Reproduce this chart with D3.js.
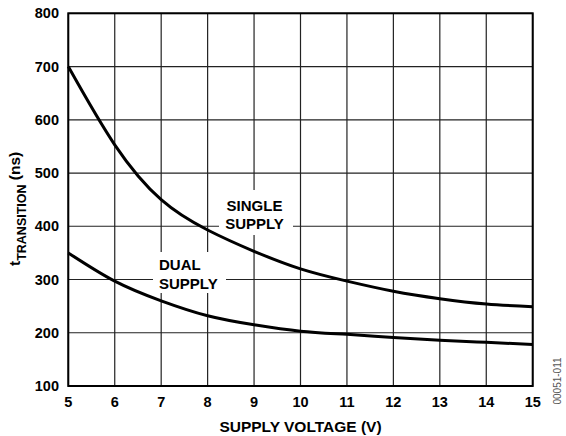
<!DOCTYPE html>
<html><head><meta charset="utf-8">
<script src="https://cdn.jsdelivr.net/npm/d3@7"></script>
<style>body{margin:0;background:#fff}svg{display:block}text{font-family:"Liberation Sans",Arial,sans-serif;font-weight:bold;fill:#000}</style>
</head><body>
<script>
const voltage = [5,6,7,8,9,10,11,12,13,14,15];
const singleSupply = [700,553,450,393,353,320,297,278,264,254,249];
const dualSupply = [350,297,260,232,215,203,197,191,186,182,178];
const xTicks = [5,6,7,8,9,10,11,12,13,14,15];
const yTicks = [100,200,300,400,500,600,700,800];

const W=566,H=436;
const svg=d3.select("body").append("svg").attr("width",W).attr("height",H);
const x=d3.scaleLinear().domain([5,15]).range([68.3,532.7]);
const y=d3.scaleLinear().domain([100,800]).range([386,13.3]);

// grid
svg.append("g").selectAll("line").data(xTicks).join("line")
 .attr("x1",d=>x(d)).attr("x2",d=>x(d)).attr("y1",y(800)).attr("y2",y(100))
 .attr("stroke","#222").attr("stroke-width",1.2);
svg.append("g").selectAll("line").data(yTicks).join("line")
 .attr("y1",d=>y(d)).attr("y2",d=>y(d)).attr("x1",x(5)).attr("x2",x(15))
 .attr("stroke","#222").attr("stroke-width",1.2);

// label boxes
svg.append("rect").attr("x",219).attr("y",190).attr("width",74).attr("height",45).attr("fill","#fff");
svg.append("rect").attr("x",153).attr("y",252).attr("width",73).attr("height",41).attr("fill","#fff");

// curves
const line=d3.line().x((d,i)=>x(voltage[i])).y(d=>y(d)).curve(d3.curveNatural);
[singleSupply,dualSupply].forEach(s=>{
 svg.append("path").attr("d",line(s)).attr("fill","none").attr("stroke","#000").attr("stroke-width",3);
});

// border
svg.append("rect").attr("x",x(5)).attr("y",y(800)).attr("width",x(15)-x(5)).attr("height",y(100)-y(800))
 .attr("fill","none").attr("stroke","#000").attr("stroke-width",2);

// ticks labels
svg.append("g").selectAll("text").data(yTicks).join("text")
 .attr("x",59).attr("y",d=>y(d)+5).attr("text-anchor","end").attr("font-size",14.5).text(d=>d);
svg.append("g").selectAll("text").data(xTicks).join("text")
 .attr("x",d=>x(d)).attr("y",407).attr("text-anchor","middle").attr("font-size",14.5).text(d=>d);

svg.append("text").attr("x",x(10)).attr("y",432).attr("text-anchor","middle").attr("font-size",15.5).text("SUPPLY VOLTAGE (V)");

const yl=svg.append("text").attr("transform","translate(20,266) rotate(-90)").attr("text-anchor","start").attr("font-size",15.5);
yl.append("tspan").text("t");
yl.append("tspan").attr("font-size",12.5).attr("dy",6).text("TRANSITION");
yl.append("tspan").attr("dy",-6).text(" (ns)");

// annotations
const a1=svg.append("text").attr("font-size",15).attr("text-anchor","middle");
a1.append("tspan").attr("x",254.5).attr("y",211).text("SINGLE");
a1.append("tspan").attr("x",254.5).attr("y",229).text("SUPPLY");
const a2=svg.append("text").attr("font-size",15);
a2.append("tspan").attr("x",159).attr("y",270).text("DUAL");
a2.append("tspan").attr("x",159).attr("y",289).text("SUPPLY");

svg.append("text").attr("transform","translate(561,381) rotate(-90)").attr("text-anchor","middle")
 .attr("font-size",10).style("font-weight","normal").style("fill","#555").text("00051-011");
</script>
</body></html>
